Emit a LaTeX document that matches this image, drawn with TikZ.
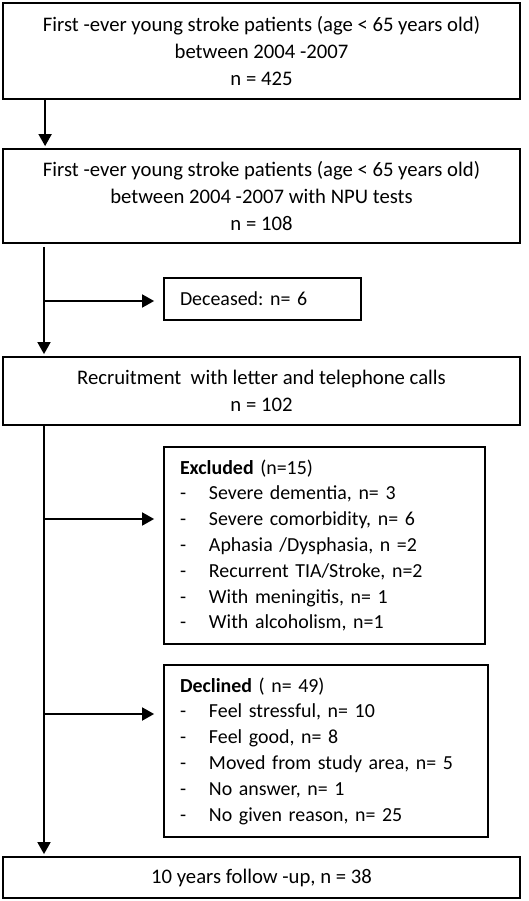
\documentclass[tikz,border=0pt]{standalone}
\usepackage{fontspec}
\setmainfont{Carlito}
\usetikzlibrary{arrows.meta}
\usetikzlibrary{positioning}

\tikzset{
  stagebox/.style={draw, line width=1.8pt, align=center, inner sep=0pt},
  sidebox/.style={draw, line width=1.8pt, align=left, inner xsep=16pt, inner ysep=0pt,
    font=\fontsize{19.9}{25.8}\selectfont},
  flowarrow/.style={line width=1.8pt, shorten >=2pt, -{Triangle[width=13pt,length=12pt]}}
}
\newcommand{\dashitem}{\makebox[29pt][l]{-}}
\frenchspacing

\begin{document}
\begin{tikzpicture}[x=1pt, y=-1pt, font=\fontsize{20.7}{26.7}\selectfont]
  \useasboundingbox (0,0) rectangle (529,901);

  % main stages
  \node[stagebox, minimum width=517pt, minimum height=96pt] (Start) at (261.5,51)
    {First -ever young stroke patients (age < 65 years old)\\ between 2004 -2007\\ n = 425};
  \node[stagebox, minimum width=517pt, minimum height=94pt] (Npu) at (261.5,196)
    {First -ever young stroke patients (age < 65 years old)\\ between 2004 -2007 with NPU tests\\ n = 108};
  \node[stagebox, minimum width=517pt, minimum height=68pt] (Recruit) at (261.5,391)
    {Recruitment\ \ with letter and telephone calls\\ n = 102};
  \node[stagebox, minimum width=517pt, minimum height=41pt] (Followup) at (261.5,877.5)
    {10 years follow -up, n = 38};

  % side boxes
  \node[sidebox, text width=165pt, minimum height=42pt] (Dead) at (262.5,299)
    {Deceased: n= 6};
  \node[sidebox, text width=289pt, minimum height=197pt] (Excl) at (324.5,545.5)
    {\textbf{Excluded} (n=15)\\
     \dashitem Severe dementia, n= 3\\
     \dashitem Severe comorbidity, n= 6\\
     \dashitem Aphasia /Dysphasia, n =2\\
     \dashitem Recurrent TIA/Stroke, n=2\\
     \dashitem With meningitis, n= 1\\
     \dashitem With alcoholism, n=1};
  \node[sidebox, text width=292pt, minimum height=172pt] (Decl) at (326,751)
    {\textbf{Declined} ( n= 49)\\
     \dashitem Feel stressful, n= 10\\
     \dashitem Feel good, n= 8\\
     \dashitem Moved from study area, n= 5\\
     \dashitem No answer, n= 1\\
     \dashitem No given reason, n= 25};

  \coordinate (Trunk) at (44,0);

  \draw[flowarrow] ([xshift=43pt]Start.south west) -- ([xshift=43pt]Npu.north west);
  \draw[flowarrow, shorten <=3pt] (Npu.south -| Trunk) -- (Recruit.north -| Trunk);
  \draw[flowarrow] (Recruit.south -| Trunk) -- (Followup.north -| Trunk);

  \foreach \side/\dy in {Dead/-2,Excl/26.5,Decl/37}{%
    \draw[flowarrow] ([yshift=\dy pt]\side.west -| Trunk)
      -- ([xshift=-7pt, yshift=\dy pt]\side.west);
  }
\end{tikzpicture}
\end{document}
